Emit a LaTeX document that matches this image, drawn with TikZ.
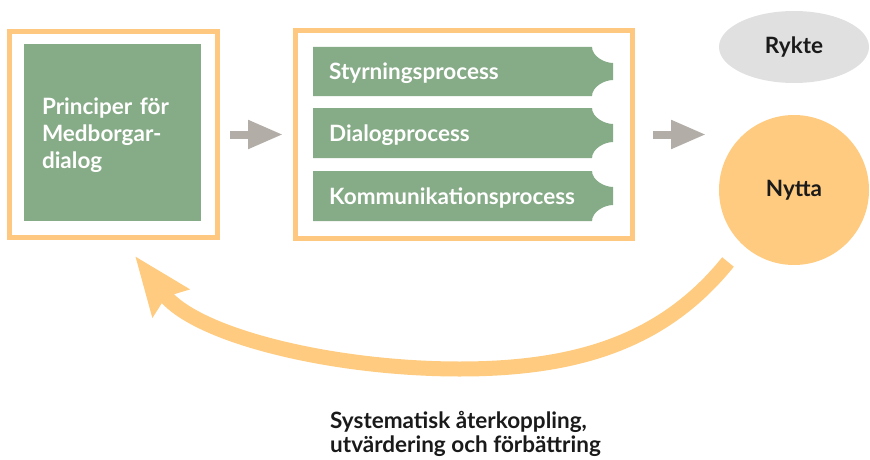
\documentclass[tikz,border=0pt]{standalone}
\usepackage{fontspec}
\setmainfont{Lato}
\usetikzlibrary{arrows.meta,shapes.geometric}
\definecolor{frameor}{HTML}{FFC880}
\definecolor{boxgreen}{HTML}{86AB87}
\definecolor{arrgray}{HTML}{B3ADA8}
\definecolor{ryktegray}{HTML}{E0E0E0}
\definecolor{nyttaor}{HTML}{FFCB80}
\definecolor{darktext}{HTML}{1A1A1A}
\begin{document}
\begin{tikzpicture}[x=1pt,y=-1pt,
  frame/.style={draw=frameor, line width=5pt, inner sep=0pt, outer sep=0pt},
  lbl/.style={font=\fontsize{22.5}{27}\selectfont\bfseries},
  lblb/.style={font=\fontsize{22.5}{24}\selectfont\bfseries},
  grayarrow/.style={draw=arrgray, line width=8pt, -{Triangle[length=35pt,width=27pt]}},
  bigarrow/.style={draw=nyttaor, line width=15pt, -{Stealth[length=58pt,width=44pt,inset=7pt]}}]
\useasboundingbox (0,0) rectangle (870,460);
% left frame
\node[frame, minimum width=208pt, minimum height=206pt] (lf) at (113.5,134.5) {};
\node[fill=boxgreen, minimum size=177pt, inner sep=0pt] (pm) at (112.5,132.5) {};
\node[lbl, text=white, align=left, text width=141pt, inner sep=0pt] (pt) at (112.5,135) {Principer för\\Medborgar-\\dialog};
% middle frame
\node[frame, minimum width=337pt, minimum height=208pt] (mf) at (464,134.5) {};
\foreach \t/\b/\n/\txt in {47/96/s1/Styrningsprocess, 108/158/s2/Dialogprocess, 171/221/s3/Kommunikationsprocess} {
  \fill[boxgreen] (313,\t) -- (592,\t) .. controls (592,\t+9) and (604,\t+16) .. (613,\t+16)
     -- (613,\b-16) .. controls (604,\b-16) and (592,\b-9) .. (592,\b) -- (313,\b) -- cycle;
  \node[lbl, text=white, anchor=base west, inner sep=0pt] (\n) at (329,{(\t+\b)/2+8.5}) {\txt};
}
% right nodes
\node[ellipse, fill=ryktegray, minimum width=150pt, minimum height=72pt, lbl, text=darktext] (ry) at (794,47) {Rykte};
\node[circle, fill=nyttaor, minimum size=150pt, lbl, text=darktext] (ny) at (794,190) {Nytta};
% gray arrows
\coordinate (a2) at (706,134.5);
\draw[grayarrow, shorten <=12.5pt, shorten >=12.5pt] (lf.east) -- (mf.west);
\draw[grayarrow, shorten <=20.5pt] (mf.east) -- (a2);
% feedback arrow
\coordinate (fbs) at (728,262);
\coordinate (fbe) at (135,256);
\draw[bigarrow] (fbs) .. controls (665,340) and (580,369) .. (460,369) .. controls (330,369) and (195,335) .. (fbe);
\node[lblb, text=darktext, align=left, anchor=west, inner sep=0pt] (fb) at (330,434) {Systematisk återkoppling,\\utvärdering och förbättring};
\end{tikzpicture}
\end{document}
